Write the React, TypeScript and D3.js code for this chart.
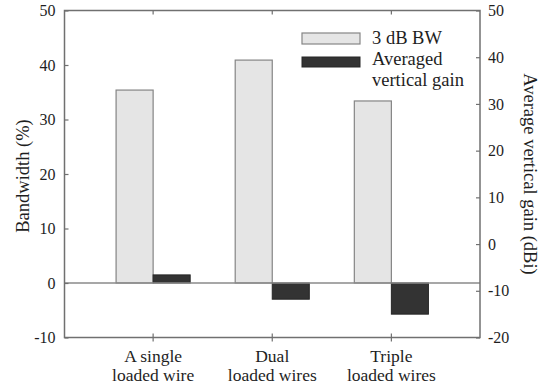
import React, { useRef, useEffect } from 'react';
import * as d3 from 'd3';

// categories (x axis), two lines each
const categories = ['A single loaded wire', 'Dual loaded wires', 'Triple loaded wires'];
const categoryLines = [['A single', 'loaded wire'], ['Dual', 'loaded wires'], ['Triple', 'loaded wires']];

// series values
const bandwidthPct = [35.4, 40.9, 33.4]; // left axis, %
const gainDbi = [-6.6, -11.8, -15.0];    // right axis, dBi

const leftTicks = [-10, 0, 10, 20, 30, 40, 50];
const rightTicks = [-20, -10, 0, 10, 20, 30, 40, 50];
const seriesNames = ['3 dB BW', 'Averaged vertical gain'];

const FONT = '"Liberation Serif", "Times New Roman", serif';
const TEXT = '#1e1e1e';
const FRAME = '#707070';

const App = () => {
  const svgRef = useRef(null);

  useEffect(() => {
    const svg = d3.select(svgRef.current);
    svg.selectAll('*').remove();

    const width = 546;
    const height = 385;
    const left = 64.5, right = 480, top = 10.5, bottom = 337.5;

    const x = d3.scaleBand()
      .domain(categories)
      .range([left, right])
      .paddingInner(0.378)
      .paddingOuter(0.433);

    const xs = d3.scaleBand()
      .domain(['bw', 'gain'])
      .range([0, x.bandwidth()]);

    const yL = d3.scaleLinear().domain([-10, 50]).range([bottom, top]);
    const yR = d3.scaleLinear().domain([-20, 50]).range([bottom, top]);

    svg.attr('width', width).attr('height', height);

    // light bars: 3 dB bandwidth
    svg.append('g')
      .selectAll('rect')
      .data(categories)
      .enter().append('rect')
      .attr('x', d => x(d) + xs('bw'))
      .attr('y', (d, i) => yL(bandwidthPct[i]))
      .attr('width', xs.bandwidth())
      .attr('height', (d, i) => yL(0) - yL(bandwidthPct[i]))
      .attr('fill', '#e5e5e5')
      .attr('stroke', '#858585')
      .attr('stroke-width', 1.2);

    // dark bars: gain, drawn from the zero line of the left axis
    svg.append('g')
      .selectAll('rect')
      .data(categories)
      .enter().append('rect')
      .attr('x', d => x(d) + xs('gain'))
      .attr('y', (d, i) => Math.min(yL(0), yR(gainDbi[i])))
      .attr('width', xs.bandwidth())
      .attr('height', (d, i) => Math.abs(yL(0) - yR(gainDbi[i])))
      .attr('fill', '#333333')
      .attr('stroke', '#262626')
      .attr('stroke-width', 1);

    // zero line
    svg.append('line')
      .attr('x1', left).attr('x2', right)
      .attr('y1', yL(0)).attr('y2', yL(0))
      .attr('stroke', '#8a8a8a')
      .attr('stroke-width', 1.3);

    // frame
    svg.append('rect')
      .attr('x', left).attr('y', top)
      .attr('width', right - left).attr('height', bottom - top)
      .attr('fill', 'none')
      .attr('stroke', FRAME)
      .attr('stroke-width', 1.5);

    const styleAxis = g => {
      g.select('.domain').remove();
      g.selectAll('line').attr('stroke', FRAME).attr('stroke-width', 1.2);
      g.selectAll('text')
        .attr('font-family', FONT)
        .attr('font-size', 16)
        .attr('fill', TEXT);
    };

    svg.append('g')
      .attr('transform', `translate(${left},0)`)
      .call(d3.axisLeft(yL).tickValues(leftTicks).tickSize(-4).tickPadding(9).tickFormat(d => String(d)))
      .call(styleAxis);

    svg.append('g')
      .attr('transform', `translate(${right},0)`)
      .call(d3.axisRight(yR).tickValues(rightTicks).tickSize(-4).tickPadding(8).tickFormat(d => String(d)))
      .call(styleAxis);

    svg.append('g')
      .attr('transform', `translate(0,${top})`)
      .call(d3.axisTop(x).tickSize(-4).tickFormat(() => ''))
      .call(styleAxis);

    const bx = svg.append('g')
      .attr('transform', `translate(0,${bottom})`)
      .call(d3.axisBottom(x).tickSize(4).tickFormat(() => ''))
      .call(styleAxis);
    bx.selectAll('line').attr('y1', -4);

    // category labels
    categories.forEach((c, i) => {
      const cx = x(c) + x.bandwidth() / 2;
      categoryLines[i].forEach((line, j) => {
        svg.append('text')
          .attr('x', cx)
          .attr('y', 362 + j * 18.5)
          .attr('text-anchor', 'middle')
          .attr('font-family', FONT)
          .attr('font-size', 17.5)
          .attr('fill', TEXT)
          .text(line);
      });
    });

    // axis titles
    svg.append('text')
      .attr('transform', `translate(25,${(top + bottom) / 2 + 2}) rotate(-90)`)
      .attr('text-anchor', 'middle')
      .attr('dominant-baseline', 'middle')
      .attr('font-family', FONT)
      .attr('font-size', 18.5)
      .attr('fill', TEXT)
      .text('Bandwidth (%)');

    svg.append('text')
      .attr('transform', `translate(528,${(top + bottom) / 2}) rotate(90)`)
      .attr('text-anchor', 'middle')
      .attr('dominant-baseline', 'middle')
      .attr('font-family', FONT)
      .attr('font-size', 18.5)
      .attr('fill', TEXT)
      .text('Average vertical gain (dBi)');

    // legend
    const legend = svg.append('g').attr('transform', 'translate(302,33)');
    legend.append('rect')
      .attr('width', 58).attr('height', 11)
      .attr('fill', '#e5e5e5').attr('stroke', '#858585').attr('stroke-width', 1.2);
    legend.append('rect')
      .attr('y', 24).attr('width', 58).attr('height', 10)
      .attr('fill', '#333333').attr('stroke', '#262626');

    const legendText = (txt, y) => legend.append('text')
      .attr('x', 70)
      .attr('y', y)
      .attr('font-family', FONT)
      .attr('font-size', 18.5)
      .attr('fill', TEXT)
      .text(txt);
    legendText(seriesNames[0], 11);
    legendText('Averaged', 32);
    legendText('vertical gain', 53);
  }, []);

  return (
    <div style={{ position: 'absolute', left: 0, top: 0, width: 546, height: 385, background: '#fff' }}>
      <svg ref={svgRef} style={{ display: 'block' }} />
    </div>
  );
};

export default App;
